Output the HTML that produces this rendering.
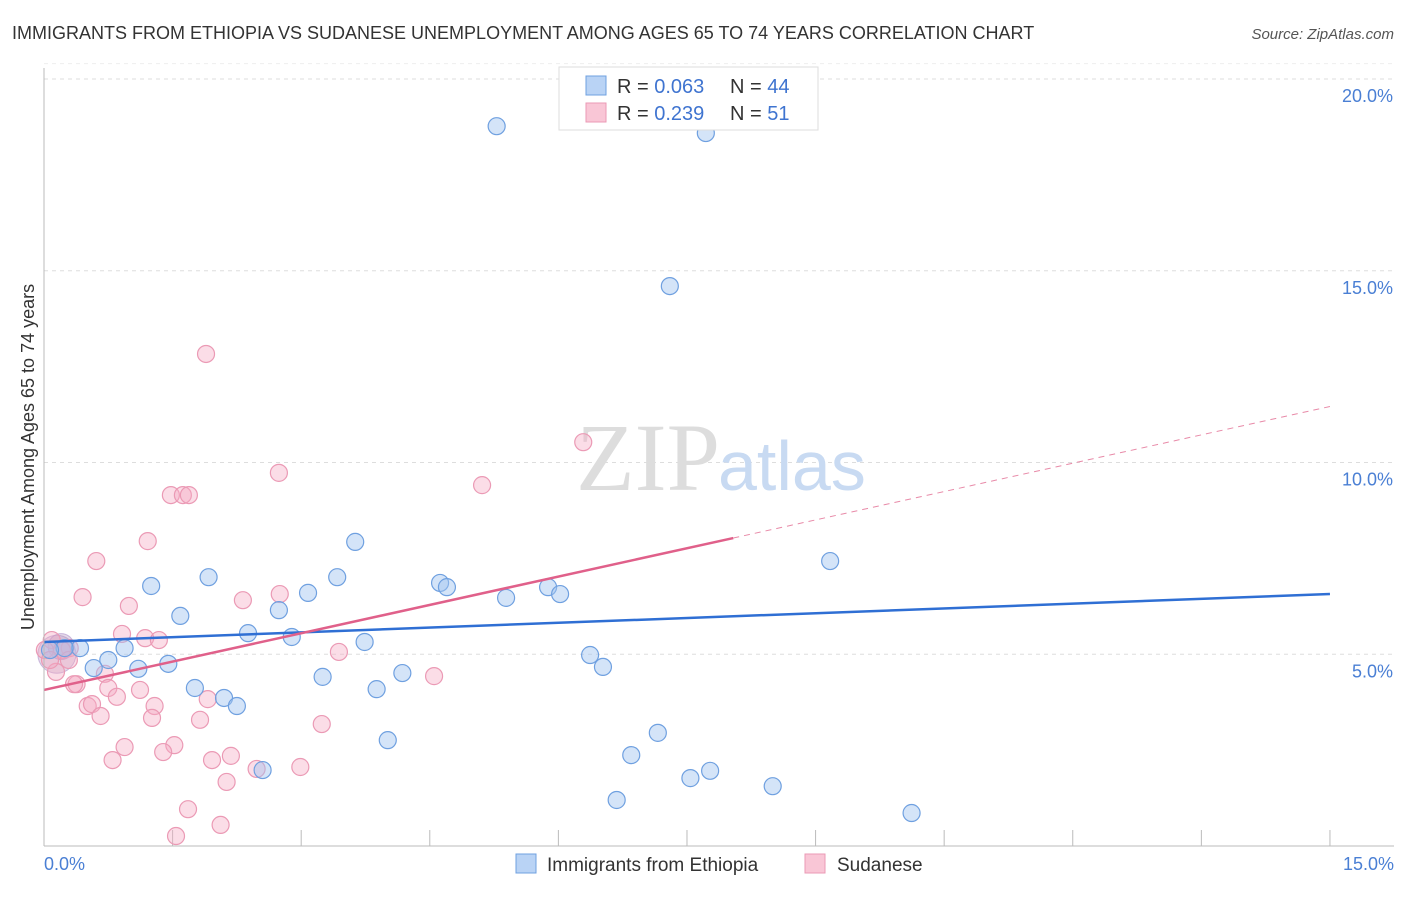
<!DOCTYPE html>
<html><head><meta charset="utf-8"><style>
body{margin:0;background:#fff;font-family:"Liberation Sans",sans-serif;}
</style></head><body>
<svg width="1406" height="892" xmlns="http://www.w3.org/2000/svg">
<text x="12" y="39" font-size="18" fill="#333">IMMIGRANTS FROM ETHIOPIA VS SUDANESE UNEMPLOYMENT AMONG AGES 65 TO 74 YEARS CORRELATION CHART</text>
<text x="1394" y="39" font-size="15" fill="#555" font-style="italic" text-anchor="end">Source: ZipAtlas.com</text>
<g id="grid"></g>
<text x="720" y="490" font-size="96" font-family="Liberation Serif,serif" fill="#ddd" text-anchor="end">ZIP</text>
<text x="718" y="490" font-size="70" fill="#c8daf2">atlas</text>
<g id="marks"></g>
<line x1="44" y1="68" x2="44" y2="846" stroke="#bbb"/>
<line x1="44" y1="846" x2="1394" y2="846" stroke="#bbb"/>
<text transform="translate(34,457) rotate(-90)" font-size="18" fill="#333" text-anchor="middle">Unemployment Among Ages 65 to 74 years</text>
<text x="44" y="870" font-size="18" fill="#4a7fd4">0.0%</text>
<text x="1394" y="870" font-size="18" fill="#4a7fd4" text-anchor="end">15.0%</text>
<g>
<rect x="559" y="67" width="259" height="63" fill="#fff" stroke="#ddd"/>
<rect x="586" y="76" width="20" height="19" fill="#b9d3f5" stroke="#6fa0e0"/>
<rect x="586" y="103" width="20" height="19" fill="#f9c6d6" stroke="#eb9ab5"/>
<text x="617" y="93" font-size="20" fill="#333">R = <tspan fill="#3f74d0">0.063</tspan></text>
<text x="730" y="93" font-size="20" fill="#333">N = <tspan fill="#3f74d0">44</tspan></text>
<text x="617" y="120" font-size="20" fill="#333">R = <tspan fill="#3f74d0"> 0.239</tspan></text>
<text x="730" y="120" font-size="20" fill="#333">N = <tspan fill="#3f74d0"> 51</tspan></text>
</g>
<g>
<rect x="516" y="854" width="20" height="19" fill="#b9d3f5" stroke="#6fa0e0"/>
<text x="547" y="871" font-size="19" fill="#333">Immigrants from Ethiopia</text>
<rect x="805" y="854" width="20" height="19" fill="#f9c6d6" stroke="#eb9ab5"/>
<text x="837" y="871" font-size="19" fill="#333">Sudanese</text>
</g>
</svg>
<script>
const yTicks=[5,10,15,20];
const yTickLabels=["5.0%","10.0%","15.0%","20.0%"];
const xTicks=[0,1.5,3,4.5,6,7.5,9,10.5,12,13.5,15];
const blueX=[5.28,7.72,7.30,9.17,3.63,1.25,1.92,3.42,4.62,4.70,5.88,6.02,5.39,3.08,2.74,1.59,2.38,2.89,3.74,0.42,0.24,0.94,0.75,0.58,1.10,1.45,6.37,6.52,3.25,4.18,1.76,3.88,2.10,2.25,4.01,7.16,6.85,7.77,7.54,2.55,8.50,6.68,10.12,0.07];
const blueY=[18.77,18.59,14.60,7.43,7.93,6.78,7.01,7.01,6.86,6.75,6.75,6.57,6.47,6.60,6.15,6.00,5.55,5.45,5.32,5.16,5.16,5.16,4.85,4.64,4.62,4.75,4.98,4.67,4.41,4.51,4.12,4.09,3.86,3.65,2.76,2.95,2.37,1.96,1.77,1.98,1.56,1.20,0.86,5.11];
const pinkX=[1.89,6.29,2.74,5.11,1.48,1.62,1.69,1.21,0.61,0.45,0.99,2.32,2.75,0.91,1.18,1.34,0.09,0.30,0.21,0.29,0.14,3.44,4.55,0.71,0.38,0.35,0.75,1.12,0.85,1.91,0.51,0.56,1.29,0.66,1.26,1.82,3.24,0.94,1.52,1.39,0.80,2.18,1.96,2.99,2.48,2.13,1.68,2.06,1.54,0.01,0.07];
const pinkY=[12.83,10.53,9.73,9.41,9.15,9.15,9.15,7.95,7.43,6.49,6.26,6.41,6.57,5.53,5.42,5.37,5.37,5.16,5.11,4.85,4.54,5.06,4.43,4.49,4.22,4.22,4.12,4.07,3.89,3.83,3.65,3.70,3.65,3.39,3.34,3.29,3.18,2.58,2.63,2.45,2.24,2.35,2.24,2.06,2.01,1.67,0.96,0.55,0.26,5.11,4.85];
const blueTrend=[5.32,6.57];
const pinkTrend=[4.07,8.03,11.46];
const pinkSolidEnd=8.04;
const X=v=>44+v*85.73, Y=v=>846-v*38.35;
const NS='http://www.w3.org/2000/svg';
function mk(p,t,a){const e=document.createElementNS(NS,t);for(const k in a)e.setAttribute(k,a[k]);p.appendChild(e);return e;}
const grid=document.getElementById('grid'), marks=document.getElementById('marks');
yTicks.forEach((t,i)=>{
 const l=mk(grid,'line',{x1:44,x2:1394,y1:Y(t),y2:Y(t),stroke:'#ddd','stroke-dasharray':'4,4'});
 
 
 const tx=mk(grid,'text',{x:1393,y:Y(t)+23,'font-size':18,fill:'#4a7fd4','text-anchor':'end'});
 tx.textContent=yTickLabels[i];
 
 
});
const tg=mk(grid,'line',{x1:44,x2:1394,y1:Y(20.4),y2:Y(20.4),stroke:'#eee','stroke-dasharray':'4,4'});


xTicks.forEach(t=>{
 const l=mk(grid,'line',{x1:X(t),x2:X(t),y1:830,y2:846,stroke:'#bbb'});
 
 
});
// big overlapping blobs at origin
[[0.15,5.0,19],[0.2,5.2,13]].forEach(b=>{
 const c=mk(marks,'circle',{cx:X(b[0]),cy:Y(b[1]),r:b[2],fill:'rgba(180,150,190,0.35)',stroke:'rgba(170,140,200,0.6)'});
 
 
});
pinkX.forEach((x,i)=>{
 const c=mk(marks,'circle',{cx:X(x),cy:Y(pinkY[i]),r:8.5,fill:'rgba(245,170,195,0.4)',stroke:'#eb9ab5','stroke-width':1.2});
 
 
});
blueX.forEach((x,i)=>{
 const c=mk(marks,'circle',{cx:X(x),cy:Y(blueY[i]),r:8.5,fill:'rgba(160,196,240,0.45)',stroke:'#6fa0e0','stroke-width':1.2});
 
 
});
const bl=mk(marks,'line',{x1:X(0),y1:Y(blueTrend[0]),x2:X(15),y2:Y(blueTrend[1]),stroke:'#2f6fd4','stroke-width':2.5});


const pl=mk(marks,'line',{x1:X(0),y1:Y(pinkTrend[0]),x2:X(pinkSolidEnd),y2:Y(pinkTrend[1]),stroke:'#e0608a','stroke-width':2.5});


const pd=mk(marks,'line',{x1:X(pinkSolidEnd),y1:Y(pinkTrend[1]),x2:X(15),y2:Y(pinkTrend[2]),stroke:'#e88aa8','stroke-width':1,'stroke-dasharray':'6,5'});


</script>
</body></html>
